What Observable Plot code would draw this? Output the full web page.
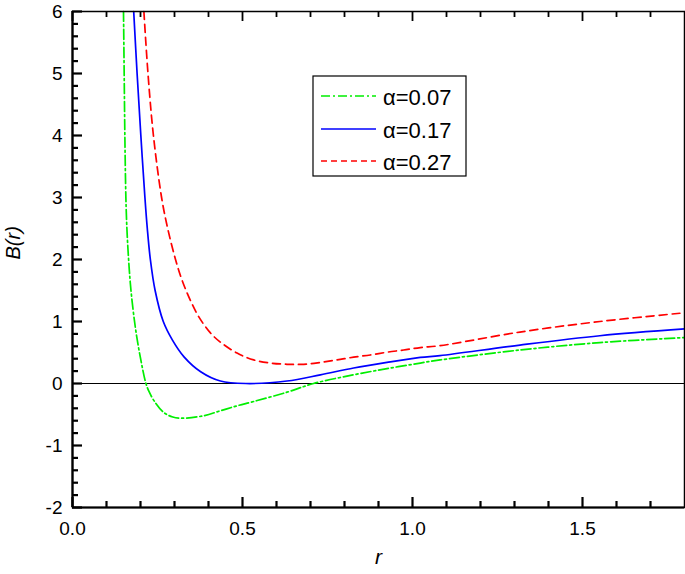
<!DOCTYPE html>
<html><head><meta charset="utf-8">
<script src="https://cdn.jsdelivr.net/npm/d3@7"></script>
<script src="https://cdn.jsdelivr.net/npm/@observablehq/plot@0.6"></script>
<style>body{margin:0;background:#fff;}</style>
</head><body><div id="chart"></div>
<script>
// α = 0.07 (green, dash-dot)
const rGreen = [0.150,0.152,0.154,0.157,0.160,0.165,0.172,0.186,0.201,0.216,0.226,0.240,0.269,0.295,0.323,0.386,0.435,0.484,0.533,0.631,0.709,0.827,0.925,1.023,1.081,1.316,1.551,1.800];
const bGreen = [6.00,5.00,4.00,3.00,2.50,2.00,1.50,0.86,0.38,0.00,-0.14,-0.28,-0.47,-0.54,-0.56,-0.52,-0.44,-0.36,-0.29,-0.14,0.00,0.14,0.24,0.33,0.38,0.54,0.66,0.74];
// α = 0.17 (blue, solid)
const rBlue = [0.180,0.190,0.201,0.213,0.220,0.229,0.243,0.267,0.294,0.328,0.377,0.435,0.510,0.631,0.729,0.827,0.925,1.023,1.081,1.316,1.551,1.800];
const bBlue = [6.00,5.00,4.00,3.00,2.50,2.00,1.50,1.00,0.70,0.43,0.19,0.04,0.00,0.04,0.14,0.25,0.34,0.42,0.45,0.62,0.77,0.88];
// α = 0.27 (red, dashed)
const rRed = [0.210,0.222,0.238,0.262,0.280,0.303,0.322,0.346,0.372,0.405,0.432,0.484,0.533,0.582,0.631,0.680,0.729,0.778,0.827,0.876,0.925,0.974,1.023,1.081,1.316,1.551,1.800];
const bRed = [6.00,5.00,4.00,3.00,2.50,2.00,1.67,1.35,1.07,0.82,0.68,0.49,0.38,0.33,0.31,0.31,0.34,0.38,0.425,0.46,0.505,0.54,0.58,0.61,0.83,1.00,1.14];

const seriesLabels = ["α=0.07","α=0.17","α=0.27"];
const seriesColors = ["#00ee00","#0000ff","#ff0000"];
const seriesDash = ["10,3,2,3", null, "8,5"];
const legendDash = ["9,3,2,3", null, "6,4"];

const xMajor = [0, 0.5, 1.0, 1.5];
const xMajorLabels = ["0.0","0.5","1.0","1.5"];
const xMinor = [0.1,0.2,0.3,0.4,0.6,0.7,0.8,0.9,1.1,1.2,1.3,1.4,1.6,1.7];
const yMajor = [-2,-1,0,1,2,3,4,5,6];
const yMajorLabels = ["-2","-1","0","1","2","3","4","5","6"];
const yMinor = [];
for (let v = -2; v < 6; v += 1) for (let k = 1; k <= 4; k++) yMinor.push(+(v + 0.2*k).toFixed(1));

const toRows = (rs, bs) => rs.map((r, i) => ({r, B: bs[i]}));
const series = [toRows(rGreen,bGreen), toRows(rBlue,bBlue), toRows(rRed,bRed)];

const W = 685, H = 574, ML = 72, MR = 1, MT = 11, MB = 67;
const FW = W - ML - MR, FH = H - MT - MB;
const font = "'Liberation Sans', Arial, sans-serif";
const chart = Plot.plot({
  width: W, height: H,
  marginLeft: ML, marginRight: MR, marginTop: MT, marginBottom: MB,
  x: {domain: [0, 1.8], label: null},
  y: {domain: [-2, 6], label: null},
  style: {fontFamily: font},
  marks: [
    Plot.ruleY([0], {stroke: "black", strokeWidth: 1}),
    ...series.map((d, i) => Plot.line(d, {x: "r", y: "B", stroke: seriesColors[i], strokeWidth: 1.7,
        strokeDasharray: seriesDash[i], curve: "catmull-rom"})),
    Plot.frame({stroke: "black", strokeWidth: 1.5}),
    Plot.ruleX([0], {stroke: "black", strokeWidth: 2.2}),
    Plot.ruleY([-2], {stroke: "black", strokeWidth: 2.2}),
    // tick labels
    Plot.axisX({anchor: "bottom", ticks: xMajor, tickSize: 0, tickPadding: 14, fontSize: 19, fill: "black",
        tickFormat: (d) => xMajorLabels[xMajor.indexOf(d)], label: null}),
    Plot.axisY({anchor: "left", ticks: yMajor, tickSize: 0, tickPadding: 10, fontSize: 19, fill: "black",
        tickFormat: (d) => yMajorLabels[yMajor.indexOf(d)], label: null}),
    // axis titles
    Plot.text(["B(r)"], {frameAnchor: "left", dx: -59, rotate: -90, fontSize: 20, fontStyle: "italic", fill: "black", text: d => d}),
    Plot.text(["r"], {frameAnchor: "bottom", dy: 56, fontSize: 21, fontStyle: "italic", fill: "black", text: d => d}),
    // inward ticks: bottom, top, left
    Plot.ruleX(xMajor, {x: d => d, insetTop: FH - 10, stroke: "black", strokeWidth: 2.2}),
    Plot.ruleX(xMinor, {x: d => d, insetTop: FH - 6, stroke: "black", strokeWidth: 2.2}),
    Plot.ruleX(xMajor, {x: d => d, insetBottom: FH - 10, stroke: "black", strokeWidth: 1.8}),
    Plot.ruleX(xMinor, {x: d => d, insetBottom: FH - 6, stroke: "black", strokeWidth: 1.8}),
    Plot.ruleY(yMajor, {y: d => d, insetRight: FW - 10, stroke: "black", strokeWidth: 2.2}),
    Plot.ruleY(yMinor, {y: d => d, insetRight: FW - 6, stroke: "black", strokeWidth: 2.2})
  ]
});
document.getElementById("chart").appendChild(chart);

// legend inside the plot area
const svg = d3.select(chart);
const lg = svg.append("g").attr("font-family", font).attr("text-anchor", "start");
lg.append("rect").attr("x", 313).attr("y", 76).attr("width", 153).attr("height", 100)
  .attr("fill", "white").attr("stroke", "black").attr("stroke-width", 1.2);
const rowY = [96, 129, 161];
seriesLabels.forEach((lab, i) => {
  lg.append("line").attr("x1", 321).attr("x2", 376).attr("y1", rowY[i]).attr("y2", rowY[i])
    .attr("stroke", seriesColors[i]).attr("stroke-width", 1.7)
    .attr("stroke-dasharray", legendDash[i]);
  lg.append("text").attr("x", 383).attr("y", rowY[i] + 8.5).attr("font-size", 22)
    .attr("fill", "black").attr("text-anchor", "start").text(lab);
});
</script>
</body></html>
